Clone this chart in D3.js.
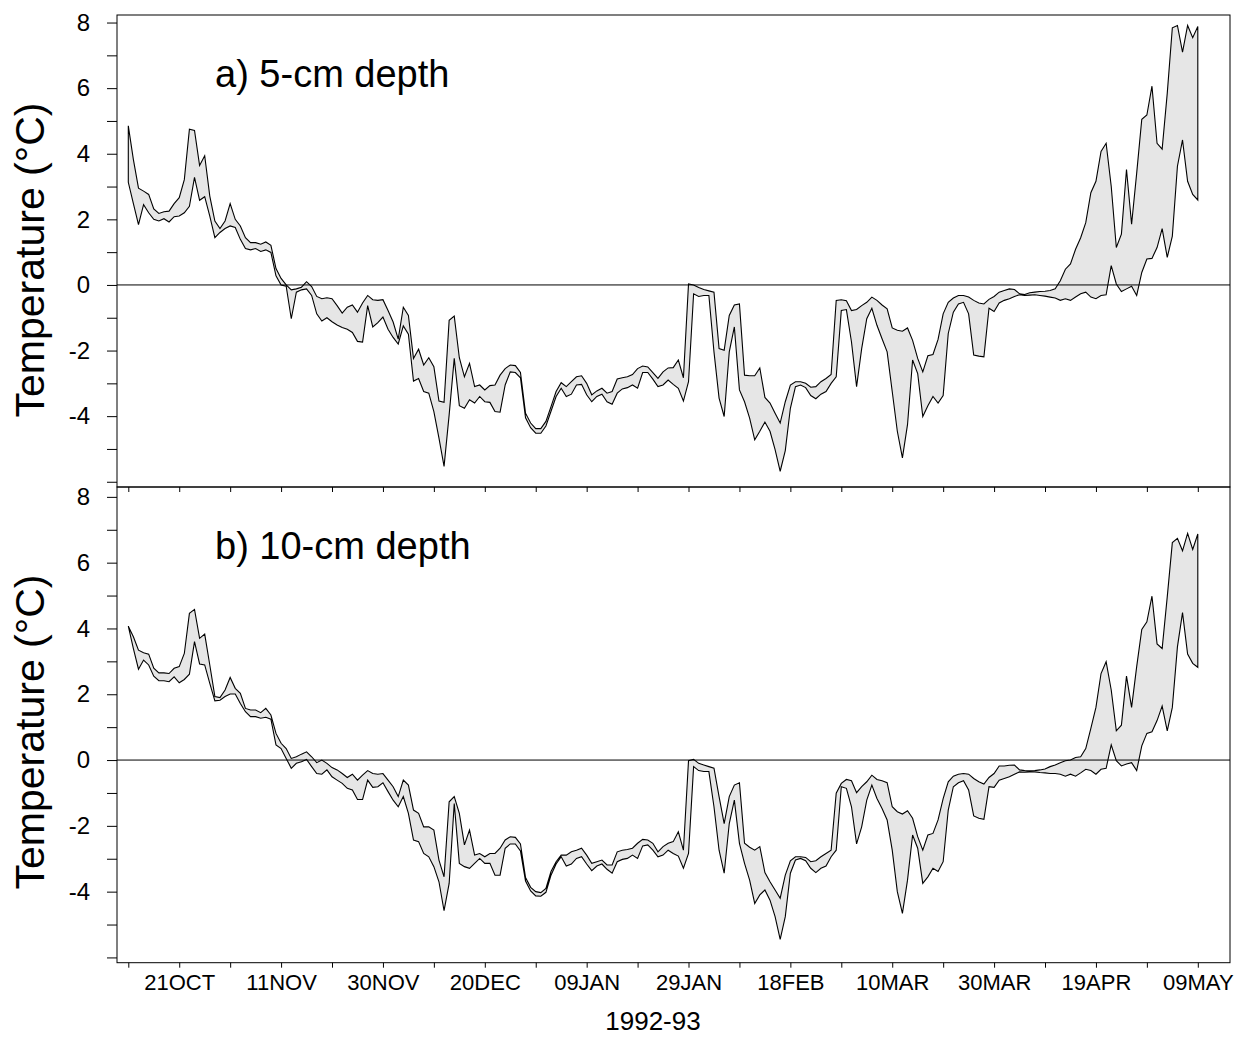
<!DOCTYPE html>
<html>
<head>
<meta charset="utf-8">
<script src="https://cdn.jsdelivr.net/npm/d3@7"></script>
<style>
  body { margin: 0; background: #fff; }
  svg { display: block; }
  text { font-family: "Liberation Sans", Arial, sans-serif; fill: #000; }
</style>
</head>
<body>
<div id="chart"></div>
<script>
// days counted from 11 Oct 1992, one value per day
const tickDays = [0,10,20,30,40,50,60,70,80,90,100,110,120,130,140,150,160,170,180,190,200,210];
const tickLabels = ["","21OCT","","11NOV","","30NOV","","20DEC","","09JAN","","29JAN","","18FEB","","10MAR","","30MAR","","19APR","","09MAY"];
const yTicks = [-6,-5,-4,-3,-2,-1,0,1,2,3,4,5,6,7,8];
const yLabels = [-4,-2,0,2,4,6,8];

// a) 5-cm depth: daily high / low
const hi5 = [
  4.85,3.82,2.95,2.86,2.76,2.32,2.18,2.23,2.25,2.48,
  2.66,3.21,4.75,4.71,3.64,3.94,2.71,1.95,1.72,1.95,
  2.48,2.0,1.8,1.44,1.29,1.29,1.24,1.31,1.21,0.5,
  0.2,0.0,-0.15,-0.12,-0.07,0.1,-0.05,-0.35,-0.42,-0.39,
  -0.42,-0.63,-0.86,-0.68,-0.61,-0.83,-0.55,-0.32,-0.45,-0.47,
  -0.45,-0.78,-1.13,-1.65,-0.68,-0.93,-2.24,-1.96,-2.44,-2.22,
  -2.49,-3.54,-3.58,-1.08,-0.95,-2.22,-2.8,-2.39,-3.1,-3.05,
  -3.2,-3.07,-3.05,-2.75,-2.55,-2.44,-2.46,-2.67,-3.91,-4.21,
  -4.38,-4.38,-4.16,-3.71,-3.25,-2.98,-3.1,-2.95,-2.8,-2.77,
  -3.0,-3.35,-3.23,-3.15,-3.3,-3.25,-2.87,-2.83,-2.8,-2.73,
  -2.55,-2.47,-2.5,-2.67,-2.85,-2.65,-2.53,-2.52,-2.29,-2.83,
  0.03,0.0,-0.08,-0.14,-0.18,-0.22,-1.94,-1.99,-0.93,-0.61,
  -0.58,-2.75,-2.77,-2.77,-2.53,-3.43,-3.6,-3.91,-4.21,-3.56,
  -3.05,-2.95,-2.95,-3.0,-3.12,-3.1,-2.95,-2.85,-2.73,-0.47,
  -0.45,-0.48,-0.78,-0.75,-0.63,-0.53,-0.37,-0.47,-0.61,-0.73,
  -1.31,-1.38,-1.41,-1.31,-1.69,-2.24,-2.65,-2.16,-2.12,-1.66,
  -0.88,-0.53,-0.4,-0.32,-0.32,-0.37,-0.47,-0.55,-0.58,-0.44,
  -0.35,-0.22,-0.17,-0.12,-0.14,-0.27,-0.29,-0.24,-0.22,-0.2,
  -0.19,-0.17,-0.12,0.13,0.48,0.64,1.09,1.44,1.9,2.81,
  3.16,4.07,4.32,3.01,1.14,1.55,3.52,1.85,3.41,5.05,
  5.18,6.06,4.32,4.14,5.84,7.84,7.91,7.1,7.91,7.54,
  7.88
];
const lo5 = [
  3.13,2.48,1.84,2.45,2.2,2.0,1.95,2.02,1.92,2.08,
  2.1,2.2,2.4,3.28,2.58,2.69,2.1,1.44,1.6,1.72,
  1.8,1.75,1.39,1.11,1.07,1.11,1.02,1.07,0.99,0.28,
  0.0,-0.04,-1.03,-0.22,-0.15,-0.12,-0.32,-0.88,-1.1,-1.0,
  -1.12,-1.22,-1.3,-1.35,-1.45,-1.72,-1.74,-0.63,-1.28,-1.15,
  -0.98,-1.35,-1.6,-1.8,-1.25,-1.5,-2.93,-2.85,-3.25,-3.3,
  -3.86,-4.67,-5.53,-3.96,-2.24,-3.68,-3.76,-3.5,-3.6,-3.4,
  -3.56,-3.58,-3.86,-3.88,-3.05,-2.65,-2.67,-2.83,-4.05,-4.35,
  -4.52,-4.52,-4.3,-3.85,-3.4,-3.15,-3.4,-3.33,-3.05,-3.03,
  -3.35,-3.56,-3.4,-3.33,-3.56,-3.64,-3.3,-3.17,-3.13,-3.05,
  -3.15,-2.67,-2.67,-2.87,-3.1,-3.05,-2.9,-3.03,-3.15,-3.54,
  -2.95,-0.27,-0.35,-0.32,-0.32,-2.04,-3.45,-4.01,-2.04,-1.28,
  -3.2,-3.56,-4.06,-4.72,-4.46,-4.18,-4.46,-5.02,-5.68,-5.05,
  -3.76,-3.1,-3.05,-3.13,-3.37,-3.47,-3.33,-3.25,-3.0,-2.8,
  -0.78,-0.75,-1.74,-3.1,-1.94,-1.03,-0.71,-1.23,-1.64,-2.04,
  -3.25,-4.46,-5.27,-4.26,-2.29,-2.7,-4.01,-3.68,-3.4,-3.6,
  -3.37,-1.48,-0.83,-0.58,-0.53,-0.88,-2.14,-2.17,-2.19,-0.71,
  -0.81,-0.55,-0.47,-0.42,-0.35,-0.3,-0.32,-0.31,-0.3,-0.32,
  -0.34,-0.37,-0.4,-0.47,-0.42,-0.47,-0.37,-0.27,-0.22,-0.37,
  -0.42,-0.32,-0.3,0.59,0.03,-0.2,-0.12,-0.04,-0.32,0.38,
  0.79,0.81,1.14,1.72,0.84,1.49,3.62,4.42,3.16,2.76,
  2.59
];

// b) 10-cm depth: daily high / low
const hi10 = [
  4.07,3.75,3.34,3.26,3.22,2.79,2.65,2.65,2.63,2.79,
  2.84,3.24,4.46,4.58,3.7,3.83,2.89,1.93,1.9,2.13,
  2.51,2.18,2.03,1.57,1.52,1.52,1.44,1.57,1.37,0.81,
  0.51,0.35,0.05,0.1,0.18,0.25,0.1,-0.08,0.0,-0.1,
  -0.23,-0.3,-0.41,-0.53,-0.43,-0.61,-0.46,-0.32,-0.41,-0.43,
  -0.41,-0.61,-0.81,-1.11,-0.61,-0.76,-1.52,-1.62,-2.03,-2.03,
  -2.13,-3.04,-3.55,-1.27,-1.11,-1.62,-2.58,-2.13,-2.89,-2.84,
  -2.94,-2.84,-2.84,-2.68,-2.43,-2.33,-2.35,-2.55,-3.57,-3.87,
  -4.0,-4.03,-3.9,-3.39,-3.09,-2.89,-2.89,-2.79,-2.74,-2.68,
  -2.89,-3.14,-3.09,-3.04,-3.19,-3.19,-2.79,-2.74,-2.72,-2.68,
  -2.53,-2.41,-2.43,-2.53,-2.79,-2.63,-2.53,-2.48,-2.18,-2.74,
  -0.02,0.02,-0.1,-0.15,-0.2,-0.25,-1.11,-1.93,-1.11,-0.76,
  -0.69,-2.53,-2.65,-2.74,-2.63,-3.42,-3.7,-3.95,-4.2,-3.5,
  -3.06,-2.94,-2.94,-2.96,-3.09,-3.06,-2.94,-2.84,-2.74,-1.01,
  -0.71,-0.59,-0.63,-0.99,-0.81,-0.66,-0.46,-0.59,-0.63,-0.69,
  -1.42,-1.57,-1.64,-1.54,-1.77,-2.33,-2.74,-2.28,-2.23,-1.82,
  -1.17,-0.66,-0.49,-0.43,-0.41,-0.43,-0.56,-0.66,-0.73,-0.53,
  -0.41,-0.18,-0.18,-0.16,-0.15,-0.3,-0.32,-0.33,-0.32,-0.3,
  -0.27,-0.2,-0.15,-0.08,-0.02,0.0,0.08,0.1,0.35,0.96,
  1.6,2.63,2.99,2.13,0.89,1.06,2.55,1.6,2.84,3.97,
  4.2,4.98,3.53,3.39,4.96,6.61,6.74,6.36,6.89,6.4,
  6.87
];
const lo10 = [
  4.07,3.39,2.76,3.04,2.89,2.55,2.41,2.41,2.38,2.53,
  2.35,2.45,2.61,3.6,2.92,2.89,2.33,1.8,1.82,1.93,
  2.01,2.01,1.72,1.47,1.32,1.32,1.27,1.3,1.24,0.46,
  0.35,0.05,-0.25,-0.1,-0.05,0.02,-0.2,-0.41,-0.43,-0.3,
  -0.51,-0.61,-0.71,-0.86,-0.91,-1.2,-1.2,-0.61,-0.83,-0.81,
  -0.69,-0.96,-1.22,-1.42,-1.11,-1.62,-2.43,-2.48,-2.84,-2.94,
  -3.24,-3.7,-4.58,-3.75,-1.32,-3.14,-3.24,-3.29,-3.14,-2.99,
  -3.14,-3.14,-3.5,-3.5,-2.68,-2.55,-2.55,-2.76,-3.68,-3.98,
  -4.13,-4.14,-4.02,-3.5,-3.16,-2.94,-3.22,-3.16,-2.99,-2.94,
  -3.16,-3.36,-3.22,-3.16,-3.32,-3.44,-3.09,-3.02,-2.99,-2.89,
  -2.99,-2.61,-2.58,-2.74,-2.94,-2.89,-2.74,-2.84,-2.92,-3.29,
  -2.84,-0.2,-0.32,-0.35,-0.35,-1.42,-2.74,-3.44,-1.93,-1.22,
  -2.53,-3.14,-3.65,-4.36,-4.1,-3.95,-4.26,-4.76,-5.45,-4.76,
  -3.44,-3.04,-2.99,-3.06,-3.29,-3.42,-3.29,-3.22,-2.94,-2.74,
  -0.81,-0.86,-1.42,-2.55,-2.03,-1.22,-0.76,-1.17,-1.47,-1.82,
  -2.74,-4.0,-4.66,-3.65,-2.28,-2.68,-3.75,-3.55,-3.29,-3.39,
  -3.09,-1.52,-0.81,-0.69,-0.63,-0.91,-1.7,-1.77,-1.8,-0.81,
  -0.83,-0.61,-0.56,-0.51,-0.43,-0.36,-0.37,-0.36,-0.36,-0.38,
  -0.39,-0.41,-0.41,-0.43,-0.49,-0.43,-0.49,-0.39,-0.28,-0.32,
  -0.43,-0.28,-0.25,0.46,-0.02,-0.18,-0.12,-0.08,-0.32,0.43,
  0.81,0.86,1.2,1.64,0.89,1.6,3.44,4.48,3.22,2.94,
  2.82
];

const w = 1238, h = 1037;
const left = 117, right = 1230;

const svg = d3.select("#chart").append("svg")
  .attr("width", w)
  .attr("height", h);

const x = d3.scaleLinear()
  .domain([0, 210])
  .range([128.3, 1197.8]);

const panels = [
  { label: "a) 5-cm depth", hi: hi5, lo: lo5, top: 15, bottom: 487, ymin: -6.16, ymax: 8.23, showLabels: false },
  { label: "b) 10-cm depth", hi: hi10, lo: lo10, top: 487, bottom: 962.7, ymin: -6.16, ymax: 8.3, showLabels: true }
];

panels.forEach(function(p) {
  const y = d3.scaleLinear()
    .domain([p.ymin, p.ymax])
    .range([p.bottom, p.top]);

  const g = svg.append("g");

  const area = d3.area()
    .x((d, i) => x(i))
    .y0((d, i) => y(p.lo[i]))
    .y1((d, i) => y(p.hi[i]));

  g.append("path")
    .datum(p.hi)
    .attr("d", area)
    .attr("fill", "#e6e6e6")
    .attr("stroke", "#000")
    .attr("stroke-width", 1.1)
    .attr("stroke-linejoin", "miter");

  // zero line
  g.append("line")
    .attr("x1", left).attr("x2", right)
    .attr("y1", y(0)).attr("y2", y(0))
    .attr("stroke", "#000")
    .attr("stroke-width", 1);

  // frame
  g.append("rect")
    .attr("x", left).attr("y", p.top)
    .attr("width", right - left).attr("height", p.bottom - p.top)
    .attr("fill", "none")
    .attr("stroke", "#000")
    .attr("stroke-width", 1);

  const yAxis = d3.axisLeft(y)
    .tickValues(yTicks)
    .tickSize(10)
    .tickPadding(17)
    .tickFormat(d => yLabels.includes(d) ? String(d) : "");
  g.append("g")
    .attr("transform", "translate(" + left + ",0)")
    .call(yAxis)
    .call(s => s.select(".domain").remove())
    .call(s => s.selectAll("text").style("font-size", "24px").attr("font-family", null))
    .call(s => s.selectAll("line").attr("stroke", "#000"));

  const xAxis = d3.axisBottom(x)
    .tickValues(tickDays)
    .tickSize(5)
    .tickPadding(7)
    .tickFormat((d, i) => p.showLabels ? tickLabels[i] : "");
  g.append("g")
    .attr("transform", "translate(0," + p.bottom + ")")
    .call(xAxis)
    .call(s => s.select(".domain").remove())
    .call(s => s.selectAll("text").style("font-size", "22px").attr("font-family", null))
    .call(s => s.selectAll("line").attr("stroke", "#000"));

  g.append("text")
    .attr("x", 215)
    .attr("y", p.top + 72)
    .style("font-size", "38px")
    .text(p.label);

  const mid = p.top + 245;
  g.append("text")
    .attr("transform", "translate(44," + mid + ") rotate(-90)")
    .attr("text-anchor", "middle")
    .style("font-size", "41px")
    .text("Temperature (°C)");
});

svg.append("text")
  .attr("x", 653)
  .attr("y", 1030)
  .attr("text-anchor", "middle")
  .style("font-size", "26px")
  .text("1992-93");
</script>
</body>
</html>
